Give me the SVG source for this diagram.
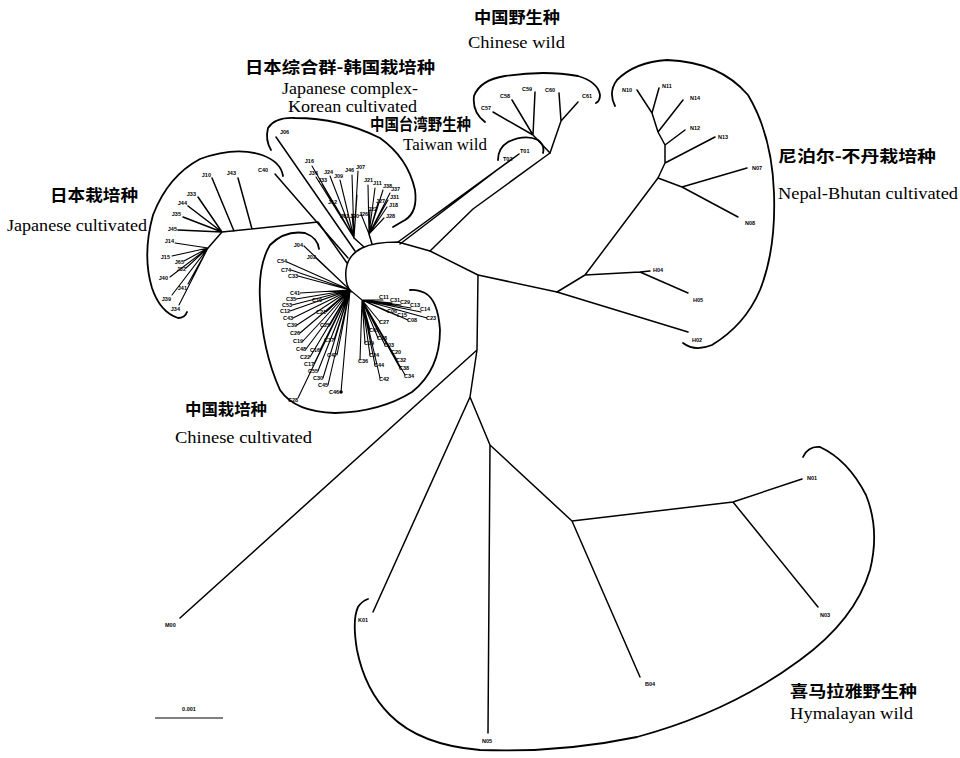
<svg xmlns="http://www.w3.org/2000/svg" width="960" height="758" viewBox="0 0 960 758">
<style>
.br{fill:none;stroke:#000;stroke-width:1.5;stroke-linecap:round;stroke-linejoin:round}
.bt{fill:none;stroke:#000;stroke-width:1.1;stroke-linecap:round}
.arc{fill:none;stroke:#000;stroke-width:1.8;stroke-linecap:round}
.lf{font-family:"Liberation Sans",Arial,sans-serif;font-weight:bold;font-size:5.5px;fill:#000}
.le{font-family:"Liberation Sans",Arial,sans-serif;font-weight:bold;font-size:5.5px;fill:#000;text-anchor:end}
.cjk{font-family:"Noto Sans CJK SC",sans-serif;font-weight:700;font-size:16px;fill:#000}
.en{font-family:"Liberation Serif","Times New Roman",serif;font-size:16px;fill:#000}
</style>
<rect width="960" height="758" fill="#fff"/>

<g id="connectors">
  <path class="br" d="M351,292 C347,287 345,280 346,270 C347,260 352,253 362,248 C372,243 385,242 398,242 L430,251 L478,275 L557,292 L688,332"/>
  <path class="br" d="M398,242 L519,154 M400,244 L505,164"/>
  <path class="br" d="M430,251 L473,209 L550,153"/>
  <path class="br" d="M478,275 L477,350 L470,397 L490,445 L488,733 M477,350 L180,618 M470,397 L373,612 M490,445 L572,521 L640,677 M572,521 L733,502 L802,479 M733,502 L818,607"/>
  <path class="br" d="M557,292 L585,275 L658,178 M585,275 L640,272 L650,271 M640,272 L688,293"/>
  <path class="br" d="M658,178 L682,187 L747,168 M682,187 L738,217 M658,178 L665,163 L715,137 M665,163 L665,145 L685,130 M665,145 L658,132 L683,100 M658,132 L652,113 L659,88 M652,113 L637,90"/>
  <path class="br" d="M550,153 L533,135 L493,112 M533,135 L512,100 M533,135 L535,92 M550,153 L561,121 L559,93 M561,121 L578,102"/>
  <path class="br" d="M347,263 L318,222 L222,232 L208,248 M212,178 L234,231 M238,178 L252,229 M198,197 L222,232 M188,206 L222,232 M183,217 L222,232 M178,230 L222,232"/>
  <path class="bt" d="M175,243 L208,248 M172,256 L208,248 M184,261 L208,248 M186,268 L208,248 M170,277 L208,248 M188,284 L208,248 M172,295 L208,248 M179,305 L208,248"/>
  <path class="br" d="M275,174 L348,258 M276,137 L355,251"/>
  <path class="br" d="M364,247 L354,238 M372,244 L369,234"/>
  <path class="bt" d="M312,166 L354,238 M316,177 L354,238 M322,184 L354,238 M330,176 L354,238 M340,180 L354,238 M335,205 L354,238 M344,214 L354,238 M352,214 L354,238 M352,175 L354,238 M358,171 L354,238 M357,195 L354,238 M368,185 L369,234 M375,188 L369,234 M383,190 L369,234 M390,193 L369,234 M388,200 L369,234 M387,207 L369,234 M384,218 L369,234 M361,214 L369,234 M370,210 L369,234 M378,203 L369,234"/>
  <path class="bt" d="M287,262 L350,290 M291,270 L350,290 M298,276 L350,290 M304,246 L350,290 M316,258 L350,290 M300,293 L350,290 M296,299 L350,290 M292,305 L350,290 M290,311 L350,290 M293,318 L350,290 M297,325 L350,290 M300,333 L350,290 M303,341 L350,290 M306,349 L350,290 M310,357 L350,290 M314,364 L350,290 M318,371 L350,290 M323,378 L350,290 M328,385 L350,290 M322,300 L350,290 M326,312 L350,290 M330,325 L350,290 M334,340 L350,290 M337,355 L350,290 M320,350 L350,290 M341,392 L350,290 M298,398 L350,290"/>
  <path class="bt" d="M350,290 L362,300 M383,300 L362,300 M392,303 L362,300 M401,305 L362,300 M411,308 L362,300 M421,312 L362,300 M427,318 L362,300 M388,312 L362,300 M398,316 L362,300 M408,320 L362,300 M380,322 L362,300 M370,330 L362,300 M378,338 L362,300 M385,345 L362,300 M392,352 L362,300 M397,360 L362,300 M400,368 L362,300 M405,375 L362,300 M365,343 L362,300 M370,355 L362,300 M375,365 L362,300 M360,360 L362,300 M380,378 L362,300"/>
  <circle cx="341" cy="392" r="1.8" fill="#000"/>
</g>

<g id="clade-chinese-wild">
  <path class="arc" d="M485,122 Q472,112 474,96 Q480,80 505,76 Q545,70 578,76 Q598,82 600,95 Q600,101 596,103"/>
  <text class="lf" x="481" y="110">C57</text>
  <text class="lf" x="500" y="98">C58</text>
  <text class="lf" x="522" y="91">C59</text>
  <text class="lf" x="545" y="92">C60</text>
  <text class="lf" x="582" y="98">C61</text>
  <text class="cjk" x="474" y="23" textLength="86" lengthAdjust="spacingAndGlyphs">中国野生种</text>
  <text class="en" x="468" y="48" textLength="97" lengthAdjust="spacingAndGlyphs">Chinese wild</text>
</g>

<g id="clade-taiwan-wild">
  <path class="arc" d="M498,160 Q498,148 508,142 Q525,134 538,140 Q545,145 543,153"/>
  <text class="lf" x="503" y="161">T02</text>
  <text class="lf" x="520" y="153">T01</text>
  <text class="cjk" x="370" y="130" textLength="101" lengthAdjust="spacingAndGlyphs">中国台湾野生种</text>
  <text class="en" x="403" y="150" textLength="84" lengthAdjust="spacingAndGlyphs">Taiwan wild</text>
</g>

<g id="clade-nepal-bhutan">
  <path class="arc" d="M615,106 Q608,92 617,80 Q635,62 667,60 Q720,62 748,95 Q772,135 774,193 Q776,250 760,290 Q745,325 712,345 Q695,352 683,343"/>
  <text class="lf" x="622" y="92">N10</text>
  <text class="lf" x="662" y="88">N11</text>
  <text class="lf" x="690" y="100">N14</text>
  <text class="lf" x="690" y="130">N12</text>
  <text class="lf" x="718" y="139">N13</text>
  <text class="lf" x="752" y="170">N07</text>
  <text class="lf" x="745" y="225">N08</text>
  <text class="lf" x="653" y="272">H04</text>
  <text class="lf" x="693" y="302">H05</text>
  <text class="lf" x="692" y="342">H02</text>
  <text class="cjk" x="778" y="162" textLength="158" lengthAdjust="spacingAndGlyphs">尼泊尔-不丹栽培种</text>
  <text class="en" x="778" y="199" textLength="180" lengthAdjust="spacingAndGlyphs">Nepal-Bhutan cultivated</text>
</g>

<g id="clade-japanese-complex">
  <path class="arc" d="M271,150 Q265,140 268,128 Q275,117 295,118 Q340,118 380,138 Q408,158 415,190 Q418,212 405,220 Q398,224 393,227"/>
  <text class="lf" x="280" y="134">J06</text>
  <text class="le" x="314" y="163">J16</text>
  <text class="le" x="318" y="175">J36</text>
  <text class="lf" x="318" y="182">J33</text>
  <text class="lf" x="324" y="174">J24</text>
  <text class="lf" x="334" y="178">J09</text>
  <text class="lf" x="345" y="172">J46</text>
  <text class="lf" x="356" y="169">J07</text>
  <text class="lf" x="364" y="182">J21</text>
  <text class="lf" x="373" y="185">J11</text>
  <text class="lf" x="383" y="188">J38</text>
  <text class="lf" x="391" y="191">J37</text>
  <text class="lf" x="390" y="199">J31</text>
  <text class="lf" x="389" y="207">J18</text>
  <text class="lf" x="386" y="218">J28</text>
  <text class="lf" x="328" y="204">J12</text>
  <text class="lf" x="340" y="218">J01</text>
  <text class="lf" x="350" y="218">J20</text>
  <text class="lf" x="359" y="216">J26</text>
  <text class="lf" x="368" y="211">J22</text>
  <text class="lf" x="376" y="203">J27</text>
  <text class="cjk" x="245" y="73" textLength="190" lengthAdjust="spacingAndGlyphs">日本综合群-韩国栽培种</text>
  <text class="en" x="282" y="94" textLength="136" lengthAdjust="spacingAndGlyphs">Japanese complex-</text>
  <text class="en" x="288" y="112" textLength="129" lengthAdjust="spacingAndGlyphs">Korean cultivated</text>
</g>

<g id="clade-japanese-cultivated">
  <path class="arc" d="M283,176 Q281,162 262,155 Q235,146 200,159 Q168,176 153,215 Q142,255 152,288 Q160,312 178,318 Q185,318 187,312"/>
  <text class="lf" x="258" y="172">C40</text>
  <text class="le" x="211" y="177">J10</text>
  <text class="le" x="236" y="175">J43</text>
  <text class="le" x="196" y="196">J33</text>
  <text class="le" x="187" y="205">J44</text>
  <text class="le" x="181" y="216">J35</text>
  <text class="le" x="177" y="231">J45</text>
  <text class="le" x="174" y="243">J14</text>
  <text class="le" x="170" y="259">J15</text>
  <text class="le" x="184" y="264">J65</text>
  <text class="le" x="186" y="271">J32</text>
  <text class="le" x="168" y="280">J40</text>
  <text class="le" x="187" y="290">J41</text>
  <text class="le" x="171" y="301">J39</text>
  <text class="le" x="180" y="311">J34</text>
  <text class="cjk" x="50" y="201" textLength="88" lengthAdjust="spacingAndGlyphs">日本栽培种</text>
  <text class="en" x="7" y="231" textLength="140" lengthAdjust="spacingAndGlyphs">Japanese cultivated</text>
</g>

<g id="clade-chinese-cultivated">
  <path class="arc" d="M319,249 Q318,238 305,233 Q285,230 270,245 Q258,265 260,300 Q262,350 280,390 Q295,412 335,413 Q380,412 412,392 Q440,370 440,330 Q438,300 425,293 Q416,289 410,290"/>
  <text class="le" x="303" y="247">J04</text>
  <text class="le" x="316" y="259">J02</text>
  <text class="le" x="287" y="263">C54</text>
  <text class="le" x="291" y="272">C74</text>
  <text class="le" x="298" y="278">C33</text>
  <text class="le" x="300" y="295">C41</text>
  <text class="le" x="296" y="301">C35</text>
  <text class="le" x="292" y="307">C53</text>
  <text class="le" x="290" y="313">C12</text>
  <text class="le" x="293" y="320">C43</text>
  <text class="le" x="297" y="327">C39</text>
  <text class="le" x="300" y="335">C26</text>
  <text class="le" x="303" y="343">C19</text>
  <text class="le" x="306" y="351">C48</text>
  <text class="le" x="310" y="359">C22</text>
  <text class="le" x="314" y="366">C17</text>
  <text class="le" x="318" y="373">C55</text>
  <text class="le" x="323" y="380">C30</text>
  <text class="le" x="328" y="387">C45</text>
  <text class="le" x="322" y="302">C10</text>
  <text class="le" x="326" y="314">C21</text>
  <text class="le" x="330" y="327">C25</text>
  <text class="le" x="334" y="342">C37</text>
  <text class="le" x="337" y="357">C47</text>
  <text class="le" x="320" y="352">C16</text>
  <text class="le" x="339" y="394">C46</text>
  <text class="le" x="298" y="402">C28</text>
  <text class="lf" x="379" y="299">C11</text>
  <text class="lf" x="390" y="302">C31</text>
  <text class="lf" x="400" y="304">C29</text>
  <text class="lf" x="410" y="307">C13</text>
  <text class="lf" x="420" y="311">C14</text>
  <text class="lf" x="426" y="320">C23</text>
  <text class="lf" x="387" y="313">C06</text>
  <text class="lf" x="397" y="317">C15</text>
  <text class="lf" x="407" y="322">C08</text>
  <text class="lf" x="379" y="324">C27</text>
  <text class="lf" x="369" y="332">C05</text>
  <text class="lf" x="377" y="340">C18</text>
  <text class="lf" x="384" y="347">C03</text>
  <text class="lf" x="391" y="354">C20</text>
  <text class="lf" x="396" y="362">C32</text>
  <text class="lf" x="399" y="370">C38</text>
  <text class="lf" x="404" y="378">C34</text>
  <text class="lf" x="364" y="345">C09</text>
  <text class="lf" x="369" y="357">C24</text>
  <text class="lf" x="374" y="367">C44</text>
  <text class="lf" x="358" y="363">C36</text>
  <text class="lf" x="379" y="381">C42</text>
  <text class="cjk" x="185" y="415" textLength="82" lengthAdjust="spacingAndGlyphs">中国栽培种</text>
  <text class="en" x="175" y="443" textLength="137" lengthAdjust="spacingAndGlyphs">Chinese cultivated</text>
</g>

<g id="clade-hymalayan-wild">
  <path class="arc" d="M803,457 Q808,446 820,447 Q848,460 866,495 Q880,530 870,570 Q855,620 800,660 Q730,712 637,737 Q560,753 480,750 Q420,745 390,715 Q365,690 357,650 Q352,620 358,607 Q362,601 368,599"/>
  <text class="lf" x="807" y="480">N01</text>
  <text class="lf" x="820" y="617">N03</text>
  <text class="lf" x="645" y="686">B04</text>
  <text class="lf" x="358" y="622">K01</text>
  <text class="lf" x="482" y="743">N05</text>
  <text class="cjk" x="790" y="697" textLength="127" lengthAdjust="spacingAndGlyphs">喜马拉雅野生种</text>
  <text class="en" x="790" y="719" textLength="123" lengthAdjust="spacingAndGlyphs">Hymalayan wild</text>
</g>

<g id="leaf-m00">
  <text class="lf" x="165" y="627">M00</text>
</g>

<g id="scale-bar">
  <line x1="155" y1="718" x2="223" y2="718" stroke="#000" stroke-width="1"/>
  <text class="lf" x="189" y="711" text-anchor="middle">0.001</text>
</g>
</svg>
